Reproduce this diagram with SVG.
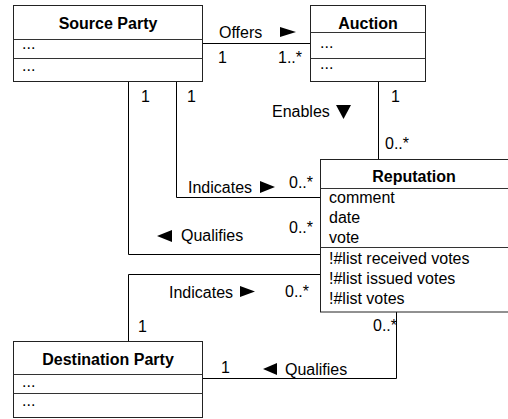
<svg xmlns="http://www.w3.org/2000/svg" width="508" height="419" viewBox="0 0 508 419">
<style>
text{font-family:"Liberation Sans",Arial,sans-serif;font-size:16px;fill:#000}
.t{font-weight:bold;text-anchor:middle}
.box{fill:#fff;stroke:#222;stroke-width:1}
.div{stroke:#333;stroke-width:1}
.c{fill:none;stroke:#000;stroke-width:1}
.tri{fill:#000}
</style>
<rect width="508" height="419" fill="#fff"/>
<g id="connectors">
<path class="c" d="M202.5 43.5H310.5"/>
<path class="c" d="M128.5 81.5V254.5H320.5"/>
<path class="c" d="M176.5 81.5V197.5H320.5"/>
<path class="c" d="M378.5 81.5V159.5"/>
<path class="c" d="M128.5 341.5V274.5H320.5"/>
<path class="c" d="M202.5 378.5H396.5V312"/>
<text x="219" y="38">Offers</text>
<polygon class="tri" points="280,27 296,32 280,37"/>
<text x="218" y="63">1</text>
<text x="278" y="63">1..*</text>
<text x="141" y="102">1</text>
<text x="187" y="102">1</text>
<text x="391" y="102">1</text>
<text x="272" y="117">Enables</text>
<polygon class="tri" points="336,105 351,105 343.5,119"/>
<text x="385" y="149">0..*</text>
<text x="188" y="193">Indicates</text>
<polygon class="tri" points="260,181 275,187 260,193"/>
<text x="289" y="188">0..*</text>
<polygon class="tri" points="172,230 157,236 172,242"/>
<text x="181" y="241">Qualifies</text>
<text x="289" y="233">0..*</text>
<text x="169" y="298">Indicates</text>
<polygon class="tri" points="240,286 255,291.5 240,297"/>
<text x="285" y="297">0..*</text>
<text x="138" y="332">1</text>
<text x="373" y="331">0..*</text>
<text x="221" y="373">1</text>
<polygon class="tri" points="277,363 263,369 277,375"/>
<text x="285" y="375">Qualifies</text>
</g>
<g id="source-party">
<rect class="box" x="13.5" y="5.5" width="189" height="76"/>
<path class="div" d="M13.5 39.5H202.5M13.5 58.5H202.5"/>
<text class="t" x="108" y="29">Source Party</text>
<text x="22" y="49">...</text>
<text x="22" y="71">...</text>
</g>
<g id="auction">
<rect class="box" x="310.5" y="5.5" width="115" height="76"/>
<path class="div" d="M310.5 32.5H425.5M310.5 58.5H425.5"/>
<text class="t" x="368" y="29">Auction</text>
<text x="320" y="48">...</text>
<text x="320" y="69">...</text>
</g>
<g id="reputation">
<rect class="box" x="320.5" y="159.5" width="190" height="152.5"/>
<path class="div" d="M320.5 188.5H510M320.5 247.5H510"/>
<text class="t" x="414" y="182">Reputation</text>
<text x="329" y="203">comment</text>
<text x="329" y="223">date</text>
<text x="329" y="243">vote</text>
<text x="329" y="264">!#list received votes</text>
<text x="329" y="284">!#list issued votes</text>
<text x="329" y="304">!#list votes</text>
</g>
<g id="destination-party">
<rect class="box" x="13.5" y="341.5" width="189" height="76"/>
<path class="div" d="M13.5 374.5H202.5M13.5 393.5H202.5"/>
<text class="t" x="108" y="365">Destination Party</text>
<text x="22" y="387">...</text>
<text x="22" y="406">...</text>
</g>
</svg>
